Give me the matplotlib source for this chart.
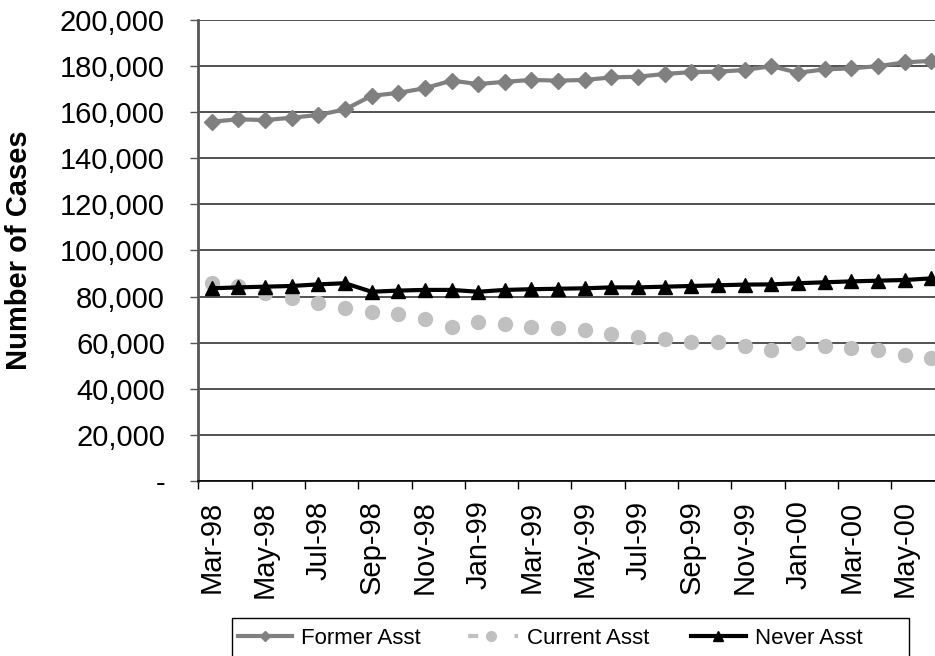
import numpy as np
import matplotlib
matplotlib.use("Agg")
import matplotlib.pyplot as plt
from matplotlib.lines import Line2D
from matplotlib.patches import Rectangle
from matplotlib.ticker import FuncFormatter

plt.rcParams['font.family'] = ['Liberation Sans', 'DejaVu Sans']

# monthly caseload, Mar-98 .. Jun-00
months = ['Mar-98', 'Apr-98', 'May-98', 'Jun-98', 'Jul-98', 'Aug-98', 'Sep-98',
          'Oct-98', 'Nov-98', 'Dec-98', 'Jan-99', 'Feb-99', 'Mar-99', 'Apr-99',
          'May-99', 'Jun-99', 'Jul-99', 'Aug-99', 'Sep-99', 'Oct-99', 'Nov-99',
          'Dec-99', 'Jan-00', 'Feb-00', 'Mar-00', 'Apr-00', 'May-00', 'Jun-00']

former_asst = [155900, 156900, 156600, 157600, 158800, 161200, 167100, 168400,
               170400, 173700, 172200, 173200, 174000, 173700, 174000, 175100,
               175400, 176600, 177400, 177600, 178300, 180000, 177100, 178600,
               179000, 180000, 181600, 182300]

current_asst = [85800, 84400, 81400, 79300, 77300, 75000, 73400, 72300,
                70400, 66900, 69000, 68100, 66900, 66500, 65500, 63600,
                62600, 61500, 60200, 60200, 58600, 56800, 60000, 58600,
                57600, 56800, 54700, 53200]

never_asst = [83600, 84000, 84300, 84600, 85300, 85800, 82100, 82600,
              82900, 82900, 82100, 82900, 83200, 83400, 83600, 84000,
              84000, 84300, 84600, 84900, 85200, 85300, 85800, 86200,
              86600, 86900, 87200, 87900]

series_names = ['Former Asst', 'Current Asst', 'Never Asst']

W, H = 935, 656
fig = plt.figure(figsize=(W / 100, H / 100), dpi=100)
ax = fig.add_axes([0.2121, 0.2668, 0.7982, 0.7027])

x = np.arange(len(months))

ax.plot(x, former_asst, color='#808080', lw=3, marker='D', ms=8,
        markeredgecolor='#808080', zorder=3)
ax.plot(x, current_asst, color='#c0c0c0', ls='none', marker='o', ms=10,
        markeredgecolor='#c0c0c0', zorder=3)
ax.plot(x, never_asst, color='black', lw=3, marker='^', ms=10,
        markeredgecolor='black', zorder=4)

ax.set_xlim(-0.5, len(months) - 0.5)
ax.set_ylim(0, 200000)

# y axis
ax.set_yticks(np.arange(0, 200001, 20000))
ax.yaxis.set_major_formatter(FuncFormatter(lambda v, p: '-' if v == 0 else f'{int(v):,}'))
ax.yaxis.grid(True, color='#333333', lw=1.2)
ax.set_axisbelow(True)

# x axis: ticks at category boundaries every 2 months, labels centred
ax.set_xticks(np.arange(-0.5, len(months), 2))
ax.set_xticklabels([])
ax.set_xticks(x[::2], months[::2], minor=True, rotation=90)
ax.tick_params(axis='x', which='minor', length=0, pad=14, labelsize=21)
ax.tick_params(axis='x', which='major', length=6, width=1, color='black')
ax.tick_params(axis='y', length=6, width=1, color='#555555', pad=18, labelsize=21)

for s in ['top', 'right']:
    ax.spines[s].set_visible(False)
ax.spines['left'].set_color('#555555')
ax.spines['left'].set_linewidth(2)
ax.spines['bottom'].set_color('black')
ax.spines['bottom'].set_linewidth(1.2)

ax.set_ylabel('Number of Cases', fontsize=21, fontweight='bold')
ax.yaxis.set_label_coords(-0.2215, 0.5)

# legend, framed by hand so the box matches the wide Excel frame
handles = [
    Line2D([], [], color='#808080', lw=3, marker='D', ms=5, markeredgecolor='#808080'),
    Line2D([], [], color='#c0c0c0', lw=3, ls=(9.85, (2.4, 8.7)), marker='o', ms=7,
           markeredgecolor='#c0c0c0'),
    Line2D([], [], color='black', lw=3, marker='^', ms=7, markeredgecolor='black'),
]
leg = fig.legend(handles, series_names, loc='center left', ncol=3,
                 bbox_to_anchor=(238 / W, 1 - 638 / H),
                 fontsize=16, frameon=False,
                 handlelength=2.45, handletextpad=0.4, columnspacing=1.9,
                 borderpad=0, borderaxespad=0)
fig.add_artist(Rectangle((232 / W, 1 - 660 / H), (909 - 232) / W, (660 - 618) / H,
                         transform=fig.transFigure, fill=False,
                         edgecolor='black', lw=1))

fig.savefig('out.png', dpi=100)
